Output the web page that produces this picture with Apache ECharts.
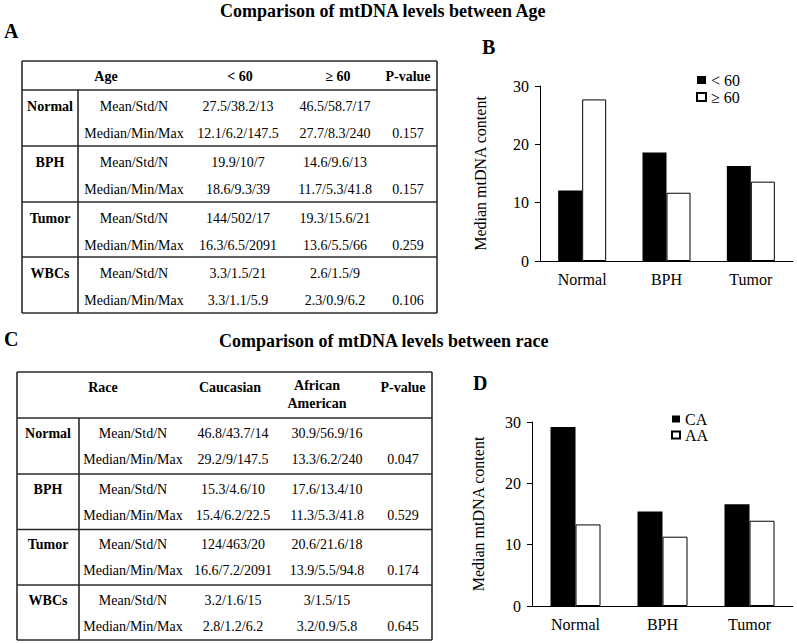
<!DOCTYPE html>
<html>
<head>
<meta charset="utf-8">
<script src="https://cdn.jsdelivr.net/npm/echarts@6/dist/echarts.min.js"></script>
<style>
html,body{margin:0;padding:0;background:#fff;}
#chart{width:797px;height:644px;}
</style>
</head>
<body>
<div id="chart"></div>
<script>
// ---------- data ----------
const categories = ['Normal', 'BPH', 'Tumor'];
const ageLt60 = [12.1, 18.6, 16.3];
const ageGe60 = [27.7, 11.7, 13.6];
const raceCA = [29.2, 15.4, 16.6];
const raceAA = [13.3, 11.3, 13.9];
const yTicks = [0, 10, 20, 30];

const tableGroups = ['Normal', 'BPH', 'Tumor', 'WBCs'];
const statLabels = ['Mean/Std/N', 'Median/Min/Max'];

const ageHeader = ['Age', '< 60', '\u2265 60', 'P-value'];
const ageLt60Mean = ['27.5/38.2/13', '19.9/10/7', '144/502/17', '3.3/1.5/21'];
const ageLt60Median = ['12.1/6.2/147.5', '18.6/9.3/39', '16.3/6.5/2091', '3.3/1.1/5.9'];
const ageGe60Mean = ['46.5/58.7/17', '14.6/9.6/13', '19.3/15.6/21', '2.6/1.5/9'];
const ageGe60Median = ['27.7/8.3/240', '11.7/5.3/41.8', '13.6/5.5/66', '2.3/0.9/6.2'];
const agePValues = ['0.157', '0.157', '0.259', '0.106'];

const raceHeader = ['Race', 'Caucasian', 'African\nAmerican', 'P-value'];
const raceCAMean = ['46.8/43.7/14', '15.3/4.6/10', '124/463/20', '3.2/1.6/15'];
const raceCAMedian = ['29.2/9/147.5', '15.4/6.2/22.5', '16.6/7.2/2091', '2.8/1.2/6.2'];
const raceAAMean = ['30.9/56.9/16', '17.6/13.4/10', '20.6/21.6/18', '3/1.5/15'];
const raceAAMedian = ['13.3/6.2/240', '11.3/5.3/41.8', '13.9/5.5/94.8', '3.2/0.9/5.8'];
const racePValues = ['0.047', '0.529', '0.174', '0.645'];

const titleAge = 'Comparison of mtDNA levels between Age';
const titleRace = 'Comparison of mtDNA levels between race';

// ---------- helpers ----------
const FONT = '"Liberation Serif", "Times New Roman", serif';
function txt(text, x, y, size, bold, align) {
  return {
    type: 'text', x: x, y: y, silent: true,
    style: {
      text: text, fill: '#000', fontFamily: FONT, fontSize: size,
      fontWeight: bold ? 'bold' : 'normal',
      align: align || 'center', verticalAlign: 'middle', lineHeight: 18
    }
  };
}
function ln(x1, y1, x2, y2) {
  return {
    type: 'line', silent: true,
    shape: {x1: x1, y1: y1, x2: x2, y2: y2},
    style: {stroke: '#2a2a2a', lineWidth: 1.6}
  };
}
function buildTable(L) {
  const els = [];
  els.push(ln(L.left, L.top, L.right, L.top));
  els.push(ln(L.left, L.bottom, L.right, L.bottom));
  els.push(ln(L.left, L.top, L.left, L.bottom));
  els.push(ln(L.right, L.top, L.right, L.bottom));
  L.rows.forEach(function (y, i) {
    if (i < L.rows.length - 1) els.push(ln(L.left, y, L.right, y));
  });
  els.push(ln(L.sep, L.rows[0], L.sep, L.bottom));
  L.header.forEach(function (h, i) {
    const single = h.indexOf('\n') < 0;
    els.push(txt(h, L.headX[i], single ? L.headY : L.headY2, 14, true));
  });
  tableGroups.forEach(function (g, i) {
    const top = L.rows[i];
    const y1 = top + L.off1, y2 = top + L.off2;
    els.push(txt(g, L.colX[0], y1, 14, true));
    els.push(txt(statLabels[0], L.colX[1], y1, 14, false));
    els.push(txt(statLabels[1], L.colX[1], y2, 14, false));
    els.push(txt(L.c1Mean[i], L.colX[2], y1, 14, false));
    els.push(txt(L.c1Median[i], L.colX[2], y2, 14, false));
    els.push(txt(L.c2Mean[i], L.colX[3], y1, 14, false));
    els.push(txt(L.c2Median[i], L.colX[3], y2, 14, false));
    els.push(txt(L.pv[i], L.colX[4], y2, 14, false));
  });
  return els;
}

const graphics = [].concat(
  [
    txt(titleAge, 220, 11, 18, true, 'left'),
    txt(titleRace, 219, 341, 18, true, 'left'),
    txt('A', 4, 31, 20, true, 'left'),
    txt('B', 482, 47, 20, true, 'left'),
    txt('C', 4, 339, 20, true, 'left'),
    txt('D', 473, 383, 20, true, 'left')
  ],
  buildTable({
    left: 22, right: 437, top: 61, bottom: 313, sep: 78,
    rows: [90, 146, 202, 257, 313],
    header: ageHeader, headX: [106, 240, 338, 408], headY: 76, headY2: 76,
    colX: [50, 134, 238, 335, 408], off1: 16, off2: 43,
    c1Mean: ageLt60Mean, c1Median: ageLt60Median,
    c2Mean: ageGe60Mean, c2Median: ageGe60Median, pv: agePValues
  }),
  buildTable({
    left: 17, right: 432, top: 372, bottom: 640, sep: 79,
    rows: [418, 474, 529.5, 585, 640],
    header: raceHeader, headX: [103, 230, 317, 403], headY: 387, headY2: 394,
    colX: [48, 133, 233, 327, 403], off1: 15, off2: 41,
    c1Mean: raceCAMean, c1Median: raceCAMedian,
    c2Mean: raceAAMean, c2Median: raceAAMedian, pv: racePValues
  })
);

function makeXAxis(gi) {
  return {
    type: 'category', gridIndex: gi, data: categories,
    axisLine: {lineStyle: {color: '#000', width: 1}},
    axisTick: {length: 5, lineStyle: {color: '#000'}},
    axisLabel: {color: '#000', fontSize: 16, fontFamily: FONT, margin: 10}
  };
}
function makeYAxis(gi, gap) {
  return {
    type: 'value', gridIndex: gi,
    min: yTicks[0], max: yTicks[yTicks.length - 1], interval: 10,
    splitLine: {show: false},
    axisLine: {show: true, lineStyle: {color: '#000', width: 1}},
    axisTick: {show: true, length: 5, lineStyle: {color: '#000'}},
    axisLabel: {color: '#000', fontSize: 16, fontFamily: FONT, margin: 11},
    name: 'Median mtDNA content', nameLocation: 'middle', nameGap: gap,
    nameTextStyle: {color: '#000', fontSize: 16, fontFamily: FONT}
  };
}
const blackStyle = {color: '#000'};
const whiteStyle = {color: '#fff', borderColor: '#000', borderWidth: 1};

const option = {
  animation: false,
  textStyle: {fontFamily: FONT},
  grid: [
    {left: 540, top: 86, width: 253, height: 175},
    {left: 532, top: 422, width: 261, height: 184}
  ],
  legend: [
    {
      data: ['< 60', '\u2265 60'], orient: 'vertical', left: 691, top: 67,
      icon: 'rect', itemWidth: 9, itemHeight: 8, itemGap: 1, padding: 5,
      textStyle: {color: '#000', fontSize: 16, fontFamily: FONT}
    },
    {
      data: ['CA', 'AA'], orient: 'vertical', left: 666, top: 406,
      icon: 'rect', itemWidth: 8, itemHeight: 7, itemGap: 0, padding: 5,
      textStyle: {color: '#000', fontSize: 16, fontFamily: FONT}
    }
  ],
  xAxis: [makeXAxis(0), makeXAxis(1)],
  yAxis: [makeYAxis(0, 52), makeYAxis(1, 46)],
  series: [
    {type: 'bar', name: '< 60', xAxisIndex: 0, yAxisIndex: 0, data: ageLt60,
     barWidth: 24, barGap: '0%', itemStyle: blackStyle},
    {type: 'bar', name: '\u2265 60', xAxisIndex: 0, yAxisIndex: 0, data: ageGe60,
     barWidth: 24, barGap: '0%', itemStyle: whiteStyle},
    {type: 'bar', name: 'CA', xAxisIndex: 1, yAxisIndex: 1, data: raceCA,
     barWidth: 25, barGap: '0%', itemStyle: blackStyle},
    {type: 'bar', name: 'AA', xAxisIndex: 1, yAxisIndex: 1, data: raceAA,
     barWidth: 25, barGap: '0%', itemStyle: whiteStyle}
  ],
  graphic: graphics
};

const chart = echarts.init(document.getElementById('chart'), null, {renderer: 'svg'});
chart.setOption(option);
</script>
</body>
</html>
